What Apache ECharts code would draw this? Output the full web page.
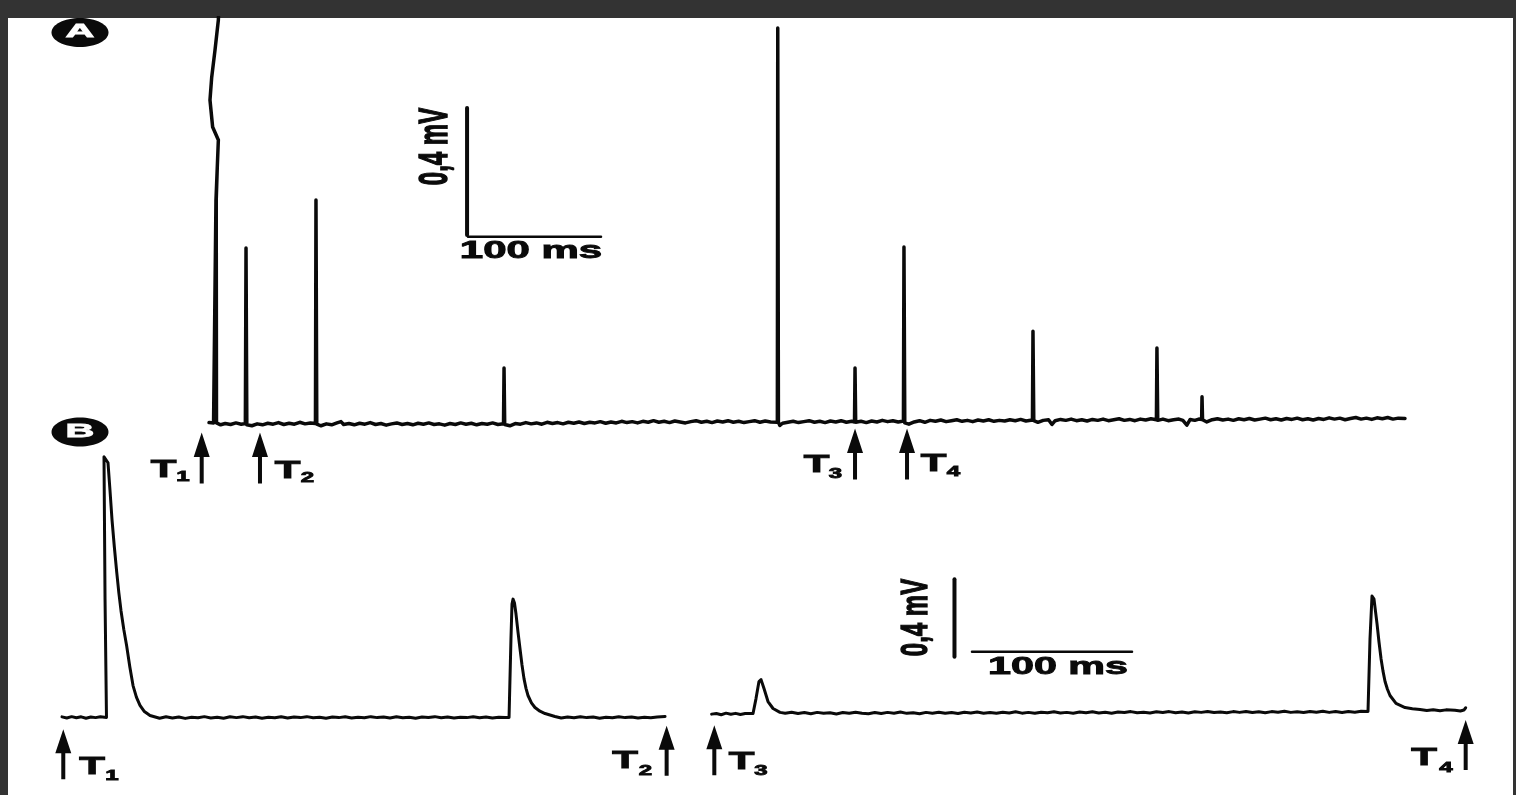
<!DOCTYPE html>
<html><head><meta charset="utf-8">
<script src="https://cdn.jsdelivr.net/npm/echarts@6/dist/echarts.min.js"></script>
<style>html,body{margin:0;padding:0;background:#333;overflow:hidden}#c{width:1516px;height:795px}</style>
</head><body><div id="c"></div>
<script>
// ---- Panel A: extracellular recording, time in ms, amplitude in mV ----
const traceA = [
[6.8,-0.005],[10.2,-0.006],
[12.0,0.696],[13.0,0.8],[13.8,0.885],[9.5,0.926],[7.5,1.011],[8.8,1.083],[11.3,1.169],[13.8,1.263],[14.3,1.32],
[13.8,1.263],[11.3,1.169],[8.8,1.083],[7.5,1.011],[9.5,0.926],[13.8,0.885],[13.0,0.8],[12.2,0.696],[12.4,-0.006],
[15.5,-0.012],[19,-0.008],[23,-0.011],[27,-0.006],[31,-0.01],[34.1,-0.008],[34.6,0.545],[35.2,-0.012],
[39,-0.015],[43,-0.009],[47,-0.012],[51,-0.007],[55,-0.01],[59,-0.005],[63,-0.011],[67,-0.007],[71,-0.01],[75,-0.004],[79,-0.009],[83,-0.006],[86.8,-0.008],[87.2,0.696],[87.8,-0.01],
[91,-0.015],[95,-0.009],[99,-0.012],[103,-0.006],[106,-0.002],[108,-0.011],[112,-0.008],[116,-0.012],[120,-0.007],[124,-0.01],[128,-0.005],[132,-0.011],[136,-0.008],[140,-0.013],[144,-0.009],[148,-0.006],[152,-0.011],[156,-0.008],[160,-0.012],[164,-0.007],[168,-0.01],[172,-0.006],[176,-0.011],[180,-0.009],[184,-0.013],[188,-0.008],[192,-0.011],[196,-0.006],[200,-0.01],[204,-0.007],[208,-0.012],[212,-0.008],[216,-0.01],[220,-0.006],[224,-0.011],[228.2,-0.009],[228.6,0.167],[229.1,-0.011],
[233,-0.015],[237,-0.008],[241,-0.01],[245,-0.005],[249,-0.009],[253,-0.006],[257,-0.01],[261,-0.004],[265,-0.008],[269,-0.005],[273,-0.009],[277,-0.004],[281,-0.007],[285,-0.003],[289,-0.008],[293,-0.004],[297,-0.006],[301,-0.002],[305,-0.007],[309,-0.003],[313,-0.006],[317,-0.001],[321,-0.005],[325,-0.002],[329,-0.006],[333,-0.001],[337,-0.004],[341,0.001],[345,-0.004],[349,-0.001],[353,-0.005],[357,0.0],[361,-0.003],[365,-0.006],[369,-0.002],[373,0.001],[377,-0.004],[381,-0.001],[385,-0.005],[389,0.0],[393,-0.003],[397,0.001],[401,-0.004],[405,-0.001],[409,-0.005],[413,-0.002],[417,0.001],[421,-0.004],[425,0.0],[429,-0.003],[434.1,-0.004],[434.4,1.238],[434.9,-0.004],[436,-0.014],[438,-0.007],
[442,-0.004],[446,-0.001],[450,-0.005],[454,-0.002],[458,0.001],[462,-0.004],[466,-0.001],[470,-0.005],[474,0.0],[478,-0.003],[482,0.001],[486,-0.004],[490,-0.001],[492.1,-0.003],[492.5,0.167],[493,-0.004],
[497,-0.001],[501,-0.005],[505,0.0],[509,-0.003],[513,0.002],[517,-0.002],[521,0.001],[525,-0.003],[528.9,0.0],[529.3,0.548],[529.9,-0.006],
[533,-0.01],[537,-0.003],[541,0.001],[545,-0.004],[549,0.002],[553,-0.001],[557,0.003],[561,-0.002],[565,0.001],[569,0.004],[573,-0.001],[577,0.002],[581,-0.002],[585,0.003],[589,0.0],[593,0.004],[597,-0.001],[601,0.002],[605,0.0],[609,0.004],[613,0.001],[617,0.005],[621,0.0],[625.9,0.003],[626.3,0.283],[626.9,0.001],
[630,-0.004],[634,0.002],[638,0.004],[640.6,-0.011],[643,0.001],[647,0.005],[651,0.002],[655,0.006],[659,0.001],[663,0.004],[667,0.0],[671,0.005],[675,0.002],[679,0.006],[683,0.001],[687,0.004],[691,0.007],[695,0.002],[699,0.005],[703,0.001],[707,0.006],[711,0.003],[715,0.007],[719.1,0.004],[719.5,0.23],[720.1,0.002],
[724,0.006],[728,0.001],[732,0.004],[736,0.006],[739,0.002],[742,-0.013],[744.5,0.005],[748,0.002],[751,0.006],[753.1,0.005],[753.4,0.076],[753.8,0.004],
[757,-0.003],[761,0.004],[765,0.007],[769,0.003],[773,0.006],[777,0.002],[781,0.007],[785,0.004],[789,0.008],[793,0.003],[797,0.006],[801,0.009],[805,0.004],[809,0.007],[813,0.003],[817,0.008],[821,0.005],[825,0.009],[829,0.004],[833,0.007],[837,0.003],[841,0.008],[845,0.005],[849,0.01],[853,0.006],[857,0.009],[861,0.004],[865,0.008],[869,0.011],[873,0.006],[877,0.009],[881,0.005],[885,0.01],[889,0.007],[893,0.011],[897,0.006],[901,0.009],[906,0.008]
];
const stimA = [[1.28,-0.1165],[45.1,-0.1165],[492.5,-0.104],[531.6,-0.104]];
const scaleBarA_v = [[200.8,0.986],[200.8,0.586]];
const scaleBarA_h = [[201.5,0.58],[301.5,0.58]];

// ---- Panel B: responses after T1..T2 and T3..T4 ----
const traceB1 = [
[0,0.003],[3,-0.003],[6,0.004],[9,-0.002],[12,0.003],[15,-0.004],[18,0.002],[21,-0.001],[24,0.003],[27.8,0],
[26.9,0.61],[26.25,1.344],[27.5,1.338],[28.75,1.313],[30,1.17],[31.25,1.02],[32.7,0.88],[34.2,0.749],[35.5,0.645],[36.9,0.549],[38.6,0.455],[40.4,0.369],[42.4,0.26],[44.4,0.164],[46.5,0.105],[48.75,0.062],[51.5,0.03],[55,0.01],[61,-0.004],
[65,0.003],[69,-0.003],[73,0.002],[77,-0.005],[81,0.001],[85,-0.002],[89,0.004],[93,-0.003],[97,0.001],[101,-0.004],[105,0.003],[109,-0.001],[113,0.004],[117,-0.002],[121,0.002],[125,-0.004],[129,0.001],[133,-0.002],[137,0.003],[141,-0.003],[145,0.002],[149,-0.001],[153,0.004],[157,-0.002],[161,0.001],[165,-0.004],[169,0.002],[173,-0.001],[177,0.003],[181,-0.003],[185,0.001],[189,-0.002],[193,0.004],[197,-0.001],[201,0.002],[205,-0.003],[209,0.003],[213,-0.002],[217,0.001],[221,-0.004],[225,0.002],[229,0.0],[233,0.004],[237,-0.002],[241,0.002],[245,-0.003],[249,0.001],[253,-0.001],[257,0.003],[261,-0.002],[265,0.002],[269,-0.003],[273,0.001],[277,-0.001],[279.4,0.0],
[280.6,0.405],[281.25,0.585],[281.9,0.61],[282.8,0.59],[283.75,0.533],[285,0.44],[286.25,0.354],[287.5,0.27],[288.75,0.2],[290,0.15],[291.25,0.113],[293.4,0.075],[295.6,0.051],[298.7,0.032],[301.9,0.02],[308.1,0.005],
[312,-0.003],[316,0.002],[320,-0.002],[324,0.003],[328,-0.001],[332,0.002],[336,-0.004],[340,0.001],[344,-0.002],[348,0.003],[352,-0.001],[356,0.002],[360,-0.003],[364,0.001],[368,-0.002],[372,0.002],[376.9,0.005]
];
const traceB2 = [
[406,0.017],[409,0.02],[412,0.014],[415,0.022],[418,0.016],[421,0.021],[424,0.015],[427,0.02],[431.9,0.02],
[433.75,0.097],[435.6,0.185],[436.9,0.195],[438.75,0.149],[441.25,0.082],[444.4,0.046],[448.75,0.026],
[452,0.022],[456,0.027],[460,0.02],[464,0.025],[468,0.019],[472,0.026],[476,0.021],[480,0.024],[484,0.018],[488,0.025],[492,0.021],[496,0.027],[500,0.022],[504,0.019],[508,0.025],[512,0.02],[516,0.026],[520,0.022],[524,0.028],[528,0.021],[532,0.024],[536,0.019],[540,0.026],[544,0.022],[548,0.027],[552,0.021],[556,0.025],[560,0.02],[564,0.027],[568,0.023],[572,0.028],[576,0.022],[580,0.025],[584,0.021],[588,0.027],[592,0.023],[596,0.029],[600,0.022],[604,0.026],[608,0.021],[612,0.027],[616,0.024],[620,0.029],[624,0.023],[628,0.026],[632,0.022],[636,0.028],[640,0.024],[644,0.029],[648,0.023],[652,0.027],[656,0.022],[660,0.028],[664,0.025],[668,0.03],[672,0.024],[676,0.027],[680,0.023],[684,0.029],[688,0.025],[692,0.03],[696,0.024],[700,0.028],[704,0.023],[708,0.029],[712,0.026],[716,0.031],[720,0.025],[724,0.028],[728,0.024],[732,0.03],[736,0.026],[740,0.031],[744,0.025],[748,0.029],[752,0.024],[756,0.03],[760,0.027],[764,0.032],[768,0.026],[772,0.029],[776,0.025],[780,0.031],[784,0.027],[788,0.032],[792,0.026],[796,0.03],[800,0.025],[804,0.031],[808,0.027],[812,0.032],[816.25,0.031],
[817.5,0.405],[818.75,0.626],[820,0.61],[821.9,0.482],[823.1,0.39],[824.4,0.303],[825.6,0.24],[826.9,0.185],[828.4,0.145],[830,0.113],[833.75,0.072],[839.4,0.051],[844,0.045],[848.75,0.041],[853,0.036],[857,0.04],[861.25,0.034],[865,0.039],[870.6,0.037],[874,0.033],[876.2,0.038],[877.3,0.05]
];
const stimB = [[0.8,-0.19],[377.9,-0.172],[407.7,-0.169],[877.3,-0.142]];
const scaleBarB_v = [[557.8,0.713],[557.8,0.313]];
const scaleBarB_h = [[568.75,0.338],[668.75,0.338]];

const stimNames = ['1','2','3','4'];
const scaleTexts = ['0,4 mV','100 ms'];
const panelNames = ['A','B'];

const chart = echarts.init(document.getElementById('c'), null, {renderer:'canvas'});
const INK = '#0a0a0a';
const arrowPath = 'path://M8,0L16,24L10,24L10,50L6,50L6,24L0,24Z';
const FONT = '"Liberation Sans", Arial, sans-serif';

function lineS(data, xi, w) {
  return {type:'line', xAxisIndex:xi, yAxisIndex:xi, data:data, showSymbol:false, symbol:'none',
    lineStyle:{color:INK, width:w, join:'round', cap:'round'}, animation:false, silent:true};
}
function txt(t, x, y, size, sx, opts) {
  opts = opts || {};
  return {type:'text', x:x, y:y, scaleX:sx, scaleY:opts.sy||1, rotation:opts.rot||0, z:50,
    style:{text:t, x:0, y:0, fontFamily:FONT, fontWeight:'bold', fontSize:size,
      fill:opts.fill||INK, stroke:opts.fill||INK, lineWidth:opts.lw==null?0.9:opts.lw,
      align:'center', verticalAlign:'middle', textAlign:'center', textVerticalAlign:'middle'}};
}

const labelPosA = [[163.5,470,183,477],[287.5,471,307.5,477.5],[816.5,465.5,835.5,473.5],[933.5,464.5,953.5,471.5]];
const labelPosB = [[92,767.5,112,776],[625,761.5,645.5,770.5],[741.5,762.5,761,770.5],[1424,758.5,1446,767.5]];

const graphics = [
  {type:'rect', shape:{x:8,y:18,width:1505,height:777}, style:{fill:'#ffffff'}, z:-10, silent:true},
  {type:'ellipse', shape:{cx:80,cy:32.5,rx:28.5,ry:14.5}, style:{fill:INK}, z:40},
  {type:'ellipse', shape:{cx:80,cy:432,rx:28.5,ry:14.5}, style:{fill:INK}, z:40},
  txt(panelNames[0], 80, 32, 19, 2.1, {fill:'#fff', lw:0.8}),
  txt(panelNames[1], 80, 431.5, 19, 2.1, {fill:'#fff', lw:0.8}),
  txt(scaleTexts[0], 436, 146.5, 24, 1, {rot:Math.PI/2, sy:1.7}),
  txt(scaleTexts[1], 531, 251.5, 24, 1.75),
  txt(scaleTexts[0], 917, 617.5, 24, 1, {rot:Math.PI/2, sy:1.55}),
  txt(scaleTexts[1], 1058, 667.5, 24, 1.72)
];
labelPosA.concat(labelPosB).forEach(function(p, i){
  graphics.push(txt('T', p[0], p[1], 24, 1.75));
  graphics.push(txt(stimNames[i % 4], p[2], p[3], 15, 1.6));
});

const arrowStyle = {color:INK, opacity:1};
const option = {
  backgroundColor:'#333333',
  animation:false,
  grid:[
    {left:200, top:17.8, width:1210.3, height:466.7},
    {left:62, top:426.5, width:1440, height:370.5}
  ],
  xAxis:[
    {type:'value', gridIndex:0, min:0, max:910, show:false, splitLine:{show:false}},
    {type:'value', gridIndex:1, min:0, max:900, show:false, splitLine:{show:false}}
  ],
  yAxis:[
    {type:'value', gridIndex:0, min:-0.2, max:1.27, show:false, splitLine:{show:false}},
    {type:'value', gridIndex:1, min:-0.4, max:1.5, show:false, splitLine:{show:false}}
  ],
  series:[
    lineS(traceA, 0, 3.5),
    lineS(scaleBarA_v, 0, 4),
    lineS(scaleBarA_h, 0, 2.5),
    {type:'scatter', xAxisIndex:0, yAxisIndex:0, data:stimA, symbol:arrowPath, symbolSize:[16,51],
      itemStyle:arrowStyle, silent:true, z:5},
    lineS(traceB1, 1, 3),
    lineS(traceB2, 1, 3),
    lineS(scaleBarB_v, 1, 4),
    lineS(scaleBarB_h, 1, 2.5),
    {type:'scatter', xAxisIndex:1, yAxisIndex:1, data:stimB, symbol:arrowPath, symbolSize:[16,50],
      itemStyle:arrowStyle, silent:true, z:5}
  ],
  graphic:{elements:graphics}
};
chart.setOption(option);
</script>
</body></html>
